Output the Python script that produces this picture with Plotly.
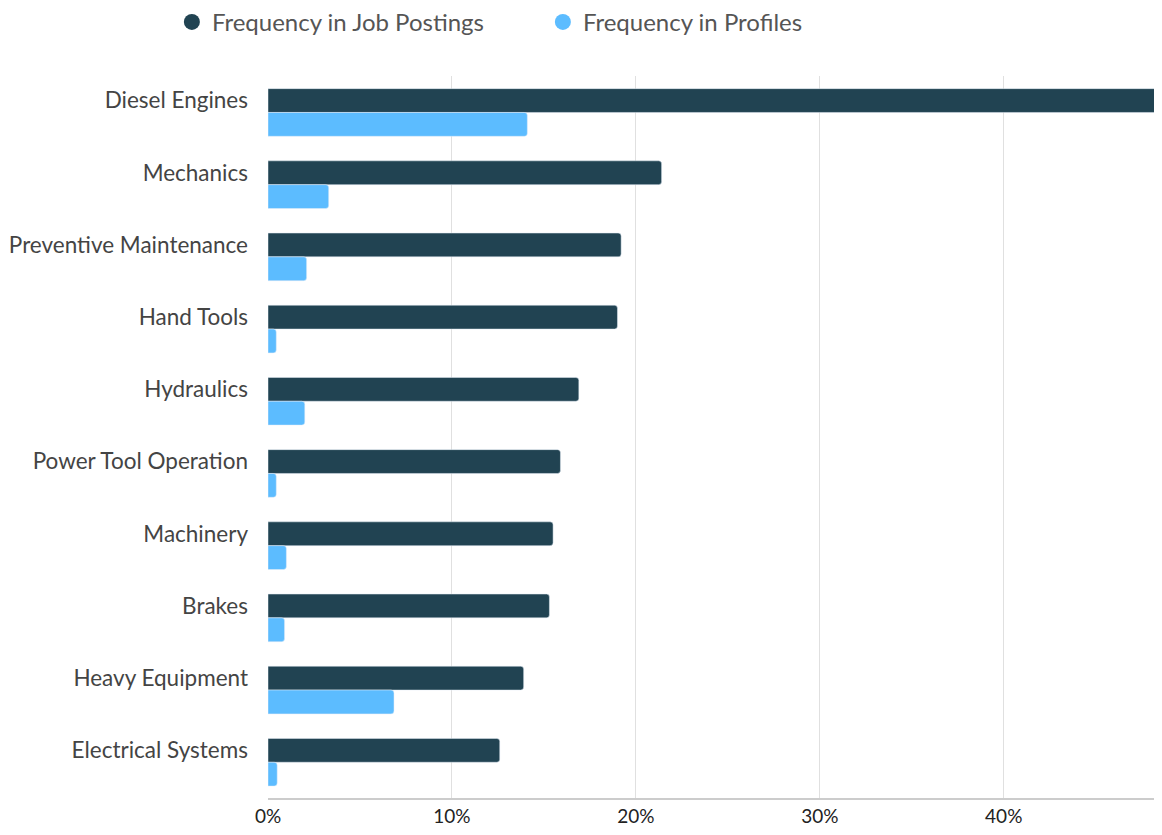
import plotly.graph_objects as go

categories = ["Diesel Engines", "Mechanics", "Preventive Maintenance", "Hand Tools",
              "Hydraulics", "Power Tool Operation", "Machinery", "Brakes",
              "Heavy Equipment", "Electrical Systems"]
job_postings = [48.5, 21.4, 19.2, 19.0, 16.9, 15.9, 15.5, 15.3, 13.9, 12.6]
profiles = [14.1, 3.3, 2.1, 0.45, 2.0, 0.45, 1.0, 0.9, 6.85, 0.5]
tick_vals = [0, 10, 20, 30, 40]
tick_text = ["0%", "10%", "20%", "30%", "40%"]

DARK = "#214352"
LIGHT = "#5CBCFF"
BW = 0.33

fig = go.Figure()
fig.add_trace(go.Bar(y=categories, x=job_postings, orientation="h", marker_color=DARK,
                     width=BW, offset=-BW / 2,
                     name="Frequency in Job Postings", showlegend=False))
fig.add_trace(go.Bar(y=categories, x=profiles, orientation="h", marker_color=LIGHT,
                     width=BW, offset=BW / 2,
                     name="Frequency in Profiles", showlegend=False))
# legend entries with circle markers
fig.add_trace(go.Scatter(x=[None], y=[None], mode="markers", name="Frequency in Job Postings",
                         marker=dict(color=DARK, size=20, symbol="circle")))
fig.add_trace(go.Scatter(x=[None], y=[None], mode="markers", name="Frequency in Profiles",
                         marker=dict(color=LIGHT, size=20, symbol="circle")))

fig.update_layout(
    width=1146, height=819,
    margin=dict(l=260, r=0, t=68, b=25),
    paper_bgcolor="white", plot_bgcolor="white",
    barmode="overlay", barcornerradius=3,
    font=dict(family="Lato, sans-serif", color="#444"),
    legend=dict(orientation="h", xref="container", yref="container", x=0.143, y=0.9825,
                xanchor="left", yanchor="middle", font=dict(size=24, color="#555"),
                entrywidth=326, itemsizing="trace"),
    xaxis=dict(range=[0, 48.17], tickvals=tick_vals, ticktext=tick_text,
               showgrid=True, gridcolor="#e0e0e0", gridwidth=1, zeroline=False,
               showline=True, linecolor="#cccccc", linewidth=2,
               tickfont=dict(size=19, color="#222"), fixedrange=True),
    yaxis=dict(range=[9.66, -0.34], showgrid=False, zeroline=False,
               tickfont=dict(size=22.5, color="#444"), ticklabelstandoff=19),
)

fig.write_html("out.html")
